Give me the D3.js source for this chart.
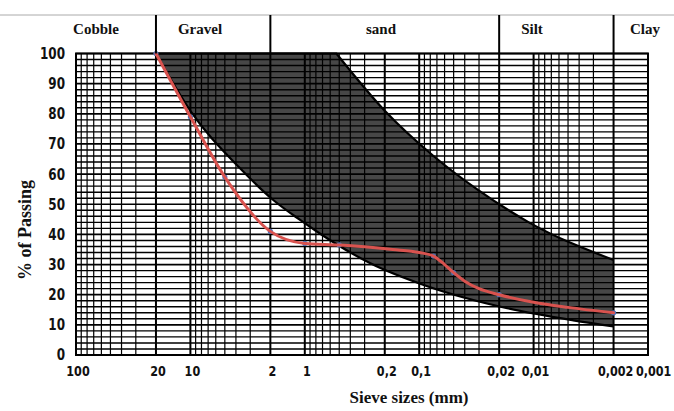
<!DOCTYPE html>
<html>
<head>
<meta charset="utf-8">
<script src="https://cdn.jsdelivr.net/npm/d3@7"></script>
<style>
  body { margin: 0; background: #fff; }
  .tick { font-family: "DejaVu Sans", sans-serif; font-weight: bold; fill: #111; }
  .title { font-family: "Liberation Serif", "Times New Roman", serif; font-weight: bold; fill: #111; }
</style>
</head>
<body>
<script>
// Soil classes shown across the top
var zones = ["Cobble", "Gravel", "sand", "Silt", "Clay"];
var zoneDividers = [20, 2, 0.02, 0.002];

// Axis ticks
var sizeTicks = [100, 20, 10, 2, 1, 0.2, 0.1, 0.02, 0.01, 0.002, 0.001];
var sizeLabels = ["100", "20", "10", "2", "1", "0,2", "0,1", "0,02", "0,01", "0,002", "0,001"];
var passTicks = [0, 10, 20, 30, 40, 50, 60, 70, 80, 90, 100];

// Grading envelope (shaded band)
var upperSize = [20, 0.53, 0.2, 0.075, 0.03, 0.011, 0.002];
var upperPass = [100, 100, 81, 66, 54.5, 44, 31.5];
var lowerSize = [20, 10, 3.7, 1.9, 1.1, 0.74, 0.27, 0.085, 0.017, 0.0045, 0.002];
var lowerPass = [100, 81, 62, 51.5, 44.8, 40.3, 30.5, 22.8, 15.5, 11.5, 9.5];

// Sample grading curve
var sampleSize = [20, 10, 5, 2, 1, 0.5, 0.17, 0.1, 0.075, 0.06, 0.05, 0.04, 0.03, 0.02, 0.01, 0.005, 0.002];
var samplePass = [100, 79, 59, 41, 37, 36.5, 35, 34, 32.8, 30, 27.3, 24.5, 22, 20, 17.5, 15.8, 14];
var sieveMarks = [20, 10, 5, 2, 1, 0.5, 0.075, 0.05, 0.02, 0.002];

var W = 674, H = 411;
var margin = {top: 53.5, right: 26, bottom: 56, left: 76};

var svg = d3.select("body").append("svg")
  .attr("width", W)
  .attr("height", H);

var x = d3.scaleLog()
  .domain([100, 0.001])
  .range([margin.left, W - margin.right]);

var y = d3.scaleLinear()
  .domain([0, 100])
  .range([H - margin.bottom, margin.top]);

// Shaded band
var edge = d3.line().curve(d3.curveMonotoneX);
var upperPts = upperSize.map(function (s, i) { return [x(s), y(upperPass[i])]; });
var lowerPts = lowerSize.map(function (s, i) { return [x(s), y(lowerPass[i])]; });
var upperPath = "M" + upperPts[0] + "L" + edge(upperPts.slice(1)).slice(1);
var lowerPath = edge(lowerPts);
var bandPath = upperPath + "L" + edge(lowerPts.slice().reverse()).slice(1) + "Z";

svg.append("path")
  .attr("d", bandPath)
  .attr("fill", "#474747");

// Grid: log lines for each decade
var vLines = [];
for (var e = -3; e <= 2; e++) {
  for (var k = 1; k <= 9; k++) {
    var v = +(k * Math.pow(10, e)).toPrecision(3);
    if (v >= 0.001 && v <= 100) vLines.push(v);
  }
}
function isLabelled(v) {
  return sizeTicks.some(function (t) { return Math.abs(Math.log10(t) - Math.log10(v)) < 1e-6; });
}

svg.append("g")
  .selectAll("line")
  .data(vLines)
  .enter().append("line")
  .attr("x1", function (d) { return x(d); })
  .attr("x2", function (d) { return x(d); })
  .attr("y1", y(0))
  .attr("y2", y(100))
  .attr("stroke", "#000")
  .attr("stroke-width", function (d) { return isLabelled(d) ? 2 : 1.2; });

svg.append("g")
  .selectAll("line")
  .data(d3.range(0, 101, 2))
  .enter().append("line")
  .attr("x1", x(100))
  .attr("x2", x(0.001))
  .attr("y1", function (d) { return y(d); })
  .attr("y2", function (d) { return y(d); })
  .attr("stroke", "#000")
  .attr("stroke-width", function (d) { return d % 10 === 0 ? 1.7 : 1.4; });

// Band edges
svg.append("path").attr("d", upperPath)
  .attr("fill", "none").attr("stroke", "#000").attr("stroke-width", 2.2);
svg.append("path").attr("d", lowerPath)
  .attr("fill", "none").attr("stroke", "#000").attr("stroke-width", 2.2);

// Frame
svg.append("rect")
  .attr("x", x(100))
  .attr("y", y(100))
  .attr("width", x(0.001) - x(100))
  .attr("height", y(0) - y(100))
  .attr("fill", "none")
  .attr("stroke", "#000")
  .attr("stroke-width", 2);

// Sample curve
var curve = d3.line()
  .x(function (d) { return x(d); })
  .y(function (d, i) { return y(samplePass[i]); })
  .curve(d3.curveMonotoneX);

svg.append("g")
  .selectAll("circle")
  .data(sieveMarks)
  .enter().append("circle")
  .attr("cx", function (d) { return x(d); })
  .attr("cy", function (d) { return y(samplePass[sampleSize.indexOf(d)]); })
  .attr("r", 2.6)
  .attr("fill", "#4a70b8");

svg.append("path")
  .attr("d", curve(sampleSize))
  .attr("fill", "none")
  .attr("stroke", "#d9534f")
  .attr("stroke-width", 3)
  .attr("stroke-linecap", "round");

// Header with soil classes
svg.append("line")
  .attr("x1", 0).attr("x2", W)
  .attr("y1", 15).attr("y2", 15)
  .attr("stroke", "#aaa")
  .attr("stroke-width", 1);

svg.append("g")
  .selectAll("line")
  .data(zoneDividers)
  .enter().append("line")
  .attr("x1", function (d) { return x(d); })
  .attr("x2", function (d) { return x(d); })
  .attr("y1", 15)
  .attr("y2", y(100))
  .attr("stroke", "#000")
  .attr("stroke-width", 2);

var zoneLabelX = [96, 200, 381, 532, 645];
svg.append("g")
  .selectAll("text")
  .data(zones)
  .enter().append("text")
  .attr("class", "title")
  .attr("x", function (d, i) { return zoneLabelX[i]; })
  .attr("y", 34)
  .attr("text-anchor", "middle")
  .style("font-size", "15px")
  .text(function (d) { return d; });

// Y tick labels
svg.append("g")
  .selectAll("text")
  .data(passTicks)
  .enter().append("text")
  .attr("class", "tick")
  .attr("transform", function (d) { return "translate(65," + y(d) + ") scale(0.8,1)"; })
  .attr("dy", "0.36em")
  .attr("text-anchor", "end")
  .style("font-size", "15px")
  .text(function (d) { return d; });

// X tick labels
var last = sizeTicks.length - 1;
svg.append("g")
  .selectAll("text")
  .data(sizeTicks)
  .enter().append("text")
  .attr("class", "tick")
  .attr("transform", function (d, i) {
    var px = i === last ? x(d) - 12 : x(d) + 2;
    return "translate(" + px + ",376) scale(0.8,1)";
  })
  .attr("text-anchor", function (d, i) { return i === last ? "start" : "middle"; })
  .style("font-size", "14px")
  .text(function (d, i) { return sizeLabels[i]; });

// Axis titles
svg.append("text")
  .attr("class", "title")
  .attr("transform", "translate(31,230) rotate(-90)")
  .attr("text-anchor", "middle")
  .style("font-size", "18px")
  .text("% of Passing");

svg.append("text")
  .attr("class", "title")
  .attr("x", 409)
  .attr("y", 403)
  .attr("text-anchor", "middle")
  .style("font-size", "17px")
  .text("Sieve sizes (mm)");
</script>
</body>
</html>
